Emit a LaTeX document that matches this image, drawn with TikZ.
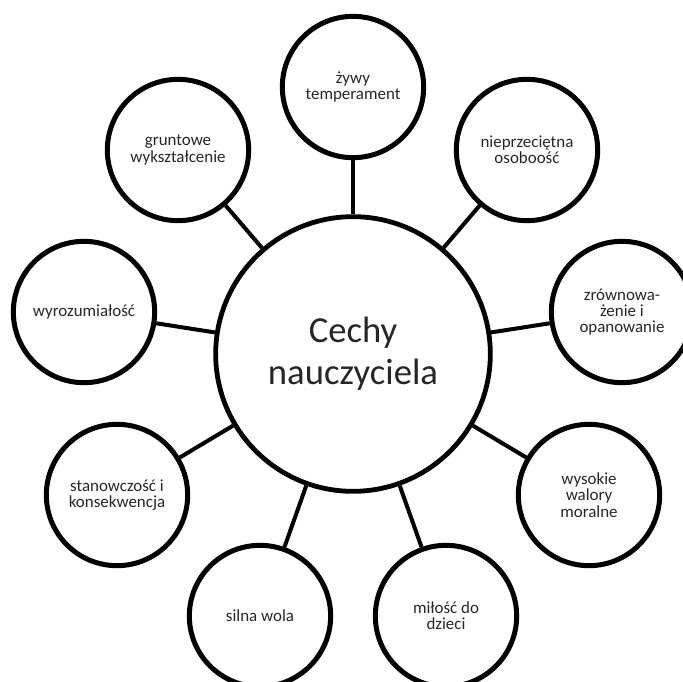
\documentclass[tikz,border=0pt]{standalone}
\usepackage{fontspec}
\setmainfont{Carlito}

\begin{document}
\begin{tikzpicture}[x=0.75pt,y=0.75pt,yscale=-1,xscale=1,
  trait/.style={draw, circle, line width=3.75pt, minimum size=106pt, inner sep=0pt,
    align=center, text=black!85, font=\fontsize{12.7}{12.2}\selectfont},
  hub/.style={draw, circle, line width=3.6pt, minimum size=206pt, inner sep=0pt,
    align=center, text=black!85, font=\fontsize{27.5}{31.5}\selectfont},
  link/.style={line width=3pt}]
%set diagram size 683 x 682
\clip (0,0) rectangle (683,682);

%Shape: Circle [id:hub]
\node [hub] (cechy) at (353,354) {Cechy\\nauczyciela};

%Shape: Circle [id:top]
\node [trait] (zywy) at (353,87) {żywy\\temperament};
%Shape: Circle [id:upper right]
\node [trait] (osobowosc) at (527,150) {nieprzeciętna\\osoboość};
%Shape: Circle [id:right]
\node [trait] (opanowanie) at (622,312) {zrównowa-\\żenie i\\opanowanie};
%Shape: Circle [id:lower right]
\node [trait] (walory) at (589,495) {wysokie\\walory\\moralne};
%Shape: Circle [id:bottom right]
\node [trait] (milosc) at (446,616) {miłość do\\dzieci};
%Shape: Circle [id:bottom left]
\node [trait] (wola) at (260,616) {silna wola};
%Shape: Circle [id:lower left]
\node [trait] (stanowczosc) at (117,495) {stanowczość i\\konsekwencja};
%Shape: Circle [id:left]
\node [trait] (wyrozumialosc) at (84,312) {wyrozumiałość};
%Shape: Circle [id:upper left]
\node [trait] (wyksztalcenie) at (178,150) {gruntowe\\wykształcenie};

%Straight Lines
\draw [link] (cechy) -- (zywy);
\draw [link] (cechy) -- (osobowosc);
\draw [link] (cechy) -- (opanowanie);
\draw [link] (cechy) -- (walory);
\draw [link] (cechy) -- (milosc);
\draw [link] (cechy) -- (wola);
\draw [link] (cechy) -- (stanowczosc);
\draw [link] (cechy) -- (wyrozumialosc);
\draw [link] (cechy) -- (wyksztalcenie);

\end{tikzpicture}
\end{document}
